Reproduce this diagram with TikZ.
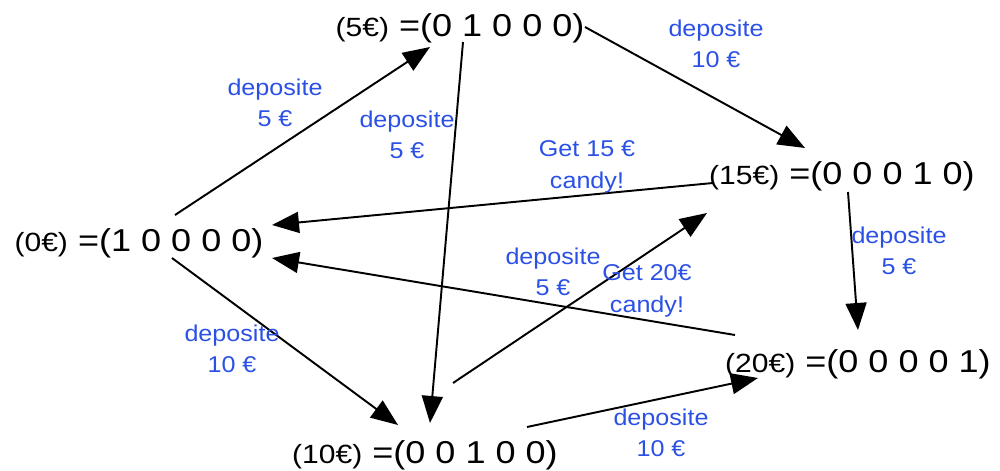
\documentclass[tikz,border=0pt]{standalone}
\usepackage{fontspec}
\setmainfont{Liberation Sans}
\usepackage{xcolor}
\usetikzlibrary{arrows.meta}
\definecolor{edge-blue}{HTML}{2B50E6}
\newcommand{\amtsize}{\fontsize{15}{18}\selectfont}

\begin{document}
\begin{tikzpicture}[x=0.02cm, y=-0.02cm,
          state/.style={anchor=base, inner sep=0pt, xscale=1.14,
                        font=\fontsize{18}{21}\selectfont},
          edgelabel/.style={align=center, inner sep=0pt, xscale=1.1,
                        text=edge-blue, font=\fontsize{13}{18}\selectfont},
          trans/.style={line width=1.1pt,
                        -{Triangle[length=0.54cm, width=0.42cm]}}]
        % Coordinates are pixels of a 1000x470 page, y downwards.
        \useasboundingbox (0,0) rectangle (1000,470);
        % states: amount in euro and its one-hot vector
        \foreach \n/\x/\y/\amt/\vec in {s0/139/251/0/{1 0 0 0 0},
            s5/460/36/5/{0 1 0 0 0}, s15/842/184/15/{0 0 0 1 0},
            s20/858/372/20/{0 0 0 0 1}, s10/425/463/10/{0 0 1 0 0}} {
          \node[state] (\n) at (\x,\y) {{\amtsize(\amt€)} =(\vec)};
        }
        % transitions
        \draw[trans] ([shift={(36,-36)}]s0.base) -- ([shift={(-30,11)}]s5.base);
        \draw[trans] ([shift={(3,6)}]s5.base) -- ([shift={(5,-40)}]s10.base);
        \draw[trans] ([shift={(125,-9)}]s5.base) -- ([shift={(-37,-36)}]s15.base);
        \draw[trans] ([shift={(-129,-1)}]s15.base) -- ([shift={(133,-26)}]s0.base);
        \draw[trans] ([shift={(6,8)}]s15.base) -- ([shift={(0,-42)}]s20.base);
        \draw[trans] ([shift={(-123,-37)}]s20.base) -- ([shift={(133,7)}]s0.base);
        \draw[trans] ([shift={(33,7)}]s0.base) -- ([shift={(-27,-38)}]s10.base);
        \draw[trans] ([shift={(28,-80)}]s10.base) -- ([shift={(-135,29)}]s15.base);
        \draw[trans] ([shift={(102,-36)}]s10.base) -- ([shift={(-100,6)}]s20.base);
        % labels of the transitions
        \foreach \n/\x/\y/\txt in {l1/275/103/{deposite\\5 €},
            l2/407/135/{deposite\\5 €}, l3/716/44/{deposite\\10 €},
            l4/587/167/{Get 15 €\\candy!}, l5/899/251/{deposite\\5 €},
            l6/553/272/{deposite\\5 €}, l7/647/291/{Get 20€\\candy!},
            l8/232/349/{deposite\\10 €}, l9/661/433/{deposite\\10 €}} {
          \node[edgelabel] (\n) at (\x,\y) {\txt};
        }
      \end{tikzpicture}
\end{document}
